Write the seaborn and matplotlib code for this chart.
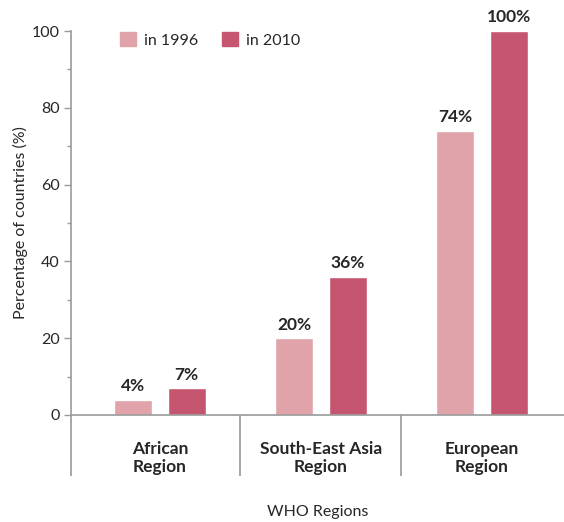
import pandas as pd
import matplotlib.pyplot as plt
import matplotlib.transforms as mtransforms
from matplotlib.patches import Patch
import seaborn as sns

# data
regions = ["African\nRegion", "South-East Asia\nRegion", "European\nRegion"]
years = ["in 1996", "in 2010"]
values_1996 = [4, 20, 74]
values_2010 = [7, 36, 100]
palette = {"in 1996": "#DFA3A9", "in 2010": "#C6566F"}

df = pd.DataFrame({
    "region": regions * 2,
    "year": [years[0]] * 3 + [years[1]] * 3,
    "value": values_1996 + values_2010,
})

sns.set_style("white")
plt.rcParams['font.family'] = ['Lato', 'DejaVu Sans']
axis_grey = "#9A9A9A"
fs = 11.5
fs_bold = 12.5

fig = plt.figure(figsize=(5.64, 5.22), dpi=100)
ax = fig.add_axes([71 / 564, 107 / 522, 493 / 564, 384 / 522])

sns.barplot(data=df, x="region", y="value", hue="year", palette=palette,
            width=0.664, gap=0.29, saturation=1, ax=ax, legend=False)

ax.set_xlim(-0.553, 2.51)
ax.set_ylim(0, 100)

# value labels
for cont in ax.containers:
    for bar in cont:
        h = bar.get_height()
        ax.annotate(f"{h:.0f}%", (bar.get_x() + bar.get_width() / 2, h),
                    xytext=(0, 4), textcoords="offset points",
                    ha="center", va="bottom", fontsize=fs_bold,
                    fontweight="bold", clip_on=False)

# spines
for s in ["top", "right"]:
    ax.spines[s].set_visible(False)
for s in ["left", "bottom"]:
    ax.spines[s].set_color(axis_grey)
    ax.spines[s].set_linewidth(1.2)

# vertical lines below the axis: left spine extension and group separators
trans = mtransforms.blended_transform_factory(ax.transData, ax.transAxes)
for xs in [-0.553, 0.5, 1.5]:
    ax.plot([xs, xs], [0, -61 / 384], transform=trans, color=axis_grey,
            lw=1.2, clip_on=False, solid_capstyle="butt")

# ticks
ax.set_yticks([0, 20, 40, 60, 80, 100])
ax.set_yticks([10, 30, 50, 70, 90], minor=True)
ax.tick_params(axis="y", which="major", length=5, width=1, color=axis_grey,
               labelsize=fs, pad=3, left=True)
ax.tick_params(axis="y", which="minor", length=3, width=1, color=axis_grey,
               left=True)
ax.tick_params(axis="x", length=0, pad=19, labelsize=fs_bold)
for lbl in ax.get_xticklabels():
    lbl.set_fontweight("bold")
    lbl.set_linespacing(1.1)

ax.set_ylabel("Percentage of countries (%)", fontsize=fs, labelpad=3)
ax.set_xlabel("")
fig.text(317.5 / 564, 1 - 512 / 522, "WHO Regions", fontsize=fs,
         ha="center", va="center")

# legend
handles = [Patch(color=palette[y], label=y) for y in years]
ax.legend(handles=handles, loc="upper left", bbox_to_anchor=(0.07, 1.035),
          ncol=2, frameon=False, fontsize=fs, handlelength=1.0,
          handleheight=1.0, handletextpad=0.5, columnspacing=1.5)

fig.savefig("out.png", dpi=100)
